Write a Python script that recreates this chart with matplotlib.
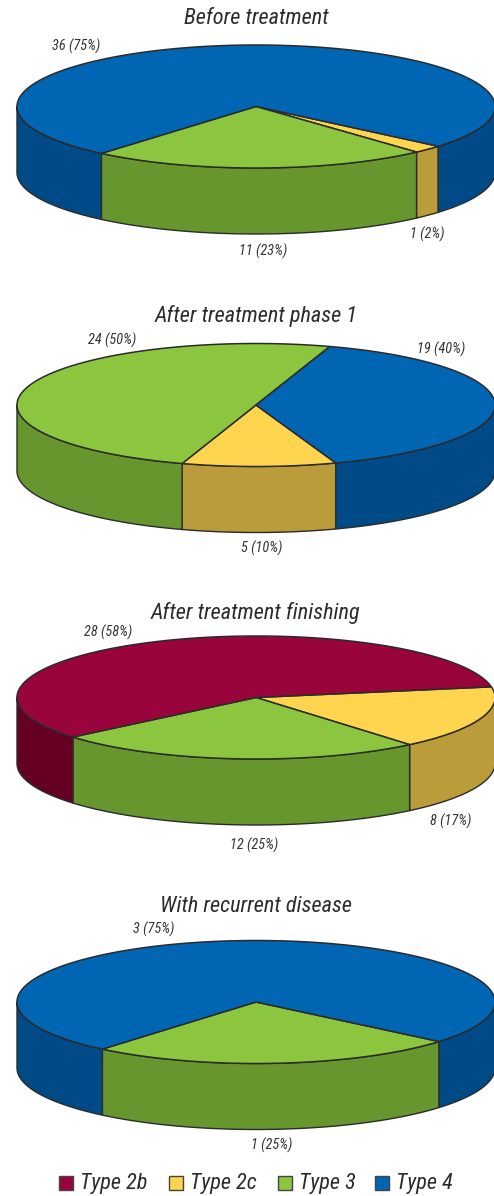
import numpy as np
import matplotlib
matplotlib.use('Agg')
import matplotlib.pyplot as plt
from matplotlib.patches import Polygon, Rectangle

plt.rcParams['font.family'] = ['Roboto Condensed', 'Liberation Sans', 'DejaVu Sans']

legend_types = ['Type 2b', 'Type 2c', 'Type 3', 'Type 4']
top_colors = {'Type 2b': '#99043d', 'Type 2c': '#ffd54f', 'Type 3': '#8cc63f', 'Type 4': '#0066b3'}
side_colors = {'Type 2b': '#660022', 'Type 2c': '#ba9d3a', 'Type 3': '#66962d', 'Type 4': '#004b87'}

titles = ['Before treatment', 'After treatment phase 1', 'After treatment finishing', 'With recurrent disease']

types_before = ['Type 2c', 'Type 3', 'Type 4']
counts_before = [1, 11, 36]
types_phase1 = ['Type 2c', 'Type 3', 'Type 4']
counts_phase1 = [5, 24, 19]
types_finish = ['Type 2c', 'Type 3', 'Type 2b']
counts_finish = [8, 12, 28]
types_recur = ['Type 3', 'Type 4']
counts_recur = [1, 3]

# start angle of the first slice, clockwise from 3 o'clock, and pie centre height
start_angles = [40.3, 70.5, -10, 40]
center_ys = [106.5, 405, 697.5, 1002]
title_ys = [19, 316, 613, 907]
label_spots = [
    [(427, 234), (263, 251), (76, 46)],
    [(262, 548), (112, 340), (441, 349)],
    [(451, 821), (254, 845), (108, 632)],
    [(272, 1145), (154, 929)],
]

CX, RX, RY, DEPTH = 256, 239, 61.5, 66
EDGE = '#2b2b2b'


def draw_pie(ax, cy, types, counts, start):
    counts = np.array(counts, dtype=float)
    sweeps = counts / counts.sum() * 360
    edges = start + np.concatenate([[0], np.cumsum(sweeps)])

    # outer wall first, only the part of each slice facing the viewer
    for name, a0, a1 in zip(types, edges[:-1], edges[1:]):
        for shift in (0, 360):
            lo, hi = max(a0, shift), min(a1, shift + 180)
            if lo >= hi:
                continue
            t = np.radians(np.linspace(lo, hi, 120))
            x = CX + RX * np.cos(t)
            y = cy + RY * np.sin(t)
            pts = np.vstack([np.column_stack([x, y]),
                             np.column_stack([x[::-1], y[::-1] + DEPTH])])
            ax.add_patch(Polygon(pts, closed=True, fc=side_colors[name], ec=EDGE, lw=1, joinstyle='round'))

    for name, a0, a1 in zip(types, edges[:-1], edges[1:]):
        t = np.radians(np.linspace(a0, a1, 300))
        pts = np.column_stack([CX + RX * np.cos(t), cy + RY * np.sin(t)])
        pts = np.vstack([[CX, cy], pts])
        ax.add_patch(Polygon(pts, closed=True, fc=top_colors[name], ec=EDGE, lw=1.1, joinstyle='round'))


fig = plt.figure(figsize=(4.94, 11.96), dpi=100)
ax = fig.add_axes([0, 0, 1, 1])
ax.set_xlim(0, 494)
ax.set_ylim(1196, 0)
ax.axis('off')

panels = [(types_before, counts_before), (types_phase1, counts_phase1),
          (types_finish, counts_finish), (types_recur, counts_recur)]

for i, (types, counts) in enumerate(panels):
    draw_pie(ax, center_ys[i], types, counts, start_angles[i])
    ax.text(CX, title_ys[i], titles[i], fontsize=16, style='italic', color='#2b2b2b', ha='center', va='center')
    total = sum(counts)
    for n, (lx, ly) in zip(counts, label_spots[i]):
        ax.text(lx, ly, f'{n} ({n / total * 100:.0f}%)', fontsize=10.3, style='italic',
                color='#333333', ha='center', va='center')

# legend row along the bottom
legend_x = [59, 169, 278, 375]
for name, x in zip(legend_types, legend_x):
    ax.add_patch(Rectangle((x, 1176), 14, 14, fc=top_colors[name], ec='#444444', lw=1))
    ax.text(x + 21, 1184, name, fontsize=16, style='italic', color='#2b2b2b', ha='left', va='center')

fig.savefig('out.png', dpi=100)
